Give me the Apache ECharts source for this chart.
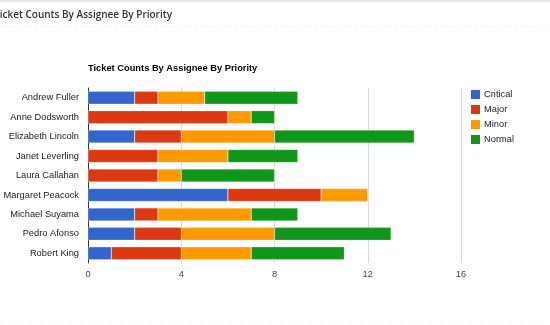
<!DOCTYPE html>
<html>
<head>
<meta charset="utf-8">
<script src="https://cdn.jsdelivr.net/npm/echarts@6/dist/echarts.min.js"></script>
<style>
  html, body { margin: 0; padding: 0; background: #fff; }
  #chart { width: 550px; height: 325px; }
</style>
</head>
<body>
<div id="chart"></div>
<script>
// Ticket counts per assignee, stacked by priority
const assignees = ['Andrew Fuller', 'Anne Dodsworth', 'Elizabeth Lincoln', 'Janet Leverling',
  'Laura Callahan', 'Margaret Peacock', 'Michael Suyama', 'Pedro Afonso', 'Robert King'];
const critical = [2, 0, 2, 0, 0, 6, 2, 2, 1];
const major    = [1, 6, 2, 3, 3, 4, 1, 2, 3];
const minor    = [2, 1, 4, 3, 1, 2, 4, 4, 3];
const normal   = [4, 1, 6, 3, 4, 0, 2, 5, 4];
const priorityNames = ['Critical', 'Major', 'Minor', 'Normal'];
const priorityColors = ['#3366cc', '#dc3912', '#ff9900', '#109618'];
const xTicks = [0, 4, 8, 12, 16];

const seriesData = [critical, major, minor, normal];
const chart = echarts.init(document.getElementById('chart'));

chart.setOption({
  animation: false,
  textStyle: { fontFamily: 'Liberation Sans, Arial, sans-serif' },
  title: [
    {
      text: 'Ticket Counts By Assignee By Priority',
      left: -11, top: 5,
      textStyle: { fontFamily: 'Open Sans', fontSize: 10, fontWeight: 600, color: '#333' }
    },
    {
      text: 'Ticket Counts By Assignee By Priority',
      left: 83, top: 59,
      textStyle: { fontFamily: 'Liberation Sans, Arial', fontSize: 9.3, fontWeight: 'bold', color: '#000' }
    }
  ],
  graphic: [
    { type: 'rect', shape: { x: 0, y: 0, width: 550, height: 2 }, style: { fill: '#e8e8e8' }, silent: true },
    { type: 'line', shape: { x1: 0, y1: 26.5, x2: 550, y2: 26.5 },
      style: { stroke: '#ececec', lineWidth: 1, lineDash: [2, 3] }, silent: true },
    { type: 'line', shape: { x1: 0, y1: 323.5, x2: 550, y2: 323.5 },
      style: { stroke: '#eeeeee', lineWidth: 1, lineDash: [2, 8] }, silent: true }
  ],
  legend: {
    orient: 'vertical',
    left: 466, top: 85,
    itemWidth: 9, itemHeight: 9, itemGap: 6,
    itemStyle: { borderWidth: 0 },
    icon: 'rect',
    data: priorityNames,
    textStyle: { fontSize: 9.3, color: '#222', padding: [0, 0, 0, -1] }
  },
  grid: { left: 88, right: 89, top: 88, bottom: 62, outerBoundsMode: 'none', containLabel: false },
  xAxis: {
    type: 'value',
    min: xTicks[0], max: xTicks[xTicks.length - 1], interval: 4,
    axisLine: { show: false },
    axisTick: { show: false },
    axisLabel: { fontSize: 9.3, color: '#444', margin: 7 },
    splitLine: { lineStyle: { color: '#d9d9d9', width: 1 } }
  },
  yAxis: {
    type: 'category',
    data: assignees,
    inverse: true,
    axisLine: { show: true, lineStyle: { color: '#333', width: 1 } },
    axisTick: { show: false },
    axisLabel: { fontSize: 9.3, color: '#222', margin: 9 }
  },
  series: priorityNames.map((name, i) => ({
    name: name,
    type: 'bar',
    stack: 'total',
    barWidth: 13,
    data: seriesData[i],
    itemStyle: { color: priorityColors[i], borderColor: 'rgba(255,255,255,0.5)', borderWidth: 0.5 }
  }))
});
</script>
</body>
</html>
